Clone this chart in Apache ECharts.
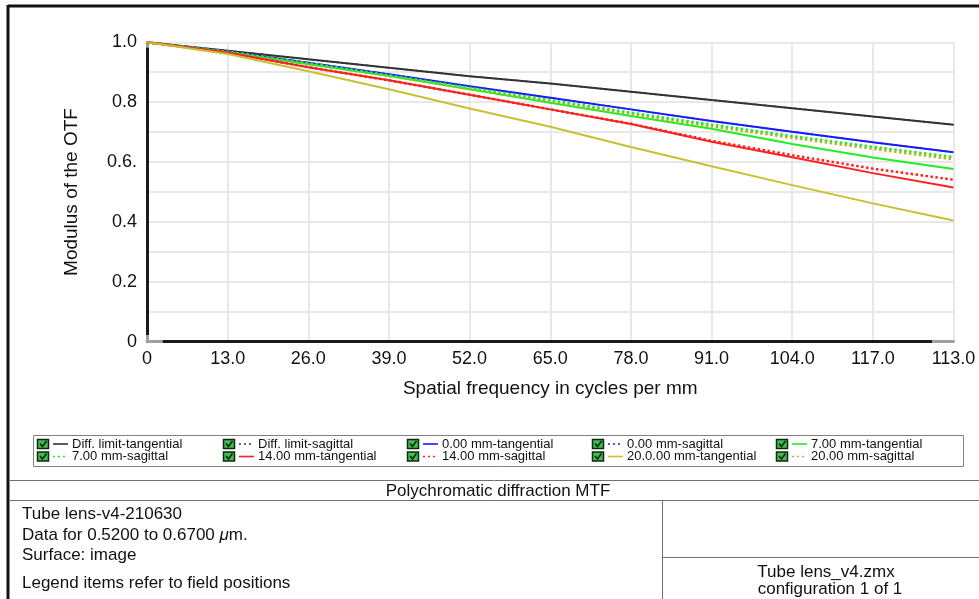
<!DOCTYPE html>
<html>
<head>
<meta charset="utf-8">
<script src="https://cdn.jsdelivr.net/npm/echarts@6/dist/echarts.min.js"></script>
<style>
html,body{margin:0;padding:0;background:#fff;}
#chart{width:979px;height:599px;}
</style>
</head>
<body>
<div id="chart"></div>
<script>
// ---- data ----
var frequencies = [0, 13, 26, 39, 52, 65, 78, 91, 104, 117, 130];
var xTickLabels = ["0", "13.0", "26.0", "39.0", "52.0", "65.0", "78.0", "91.0", "104.0", "117.0", "113.0"];
var yTickLabels = ["0", "", "0.2", "", "0.4", "", "0.6.", "", "0.8", "", "1.0"];

var diffTangential = [1, 0.972, 0.943, 0.915, 0.887, 0.862, 0.835, 0.807, 0.780, 0.752, 0.725];
var diffSagittal   = [1, 0.972, 0.943, 0.915, 0.887, 0.862, 0.835, 0.807, 0.780, 0.752, 0.725];
var f0Tangential   = [1, 0.969, 0.932, 0.893, 0.853, 0.815, 0.776, 0.737, 0.701, 0.666, 0.633];
var f0Sagittal     = [1, 0.969, 0.932, 0.893, 0.853, 0.815, 0.776, 0.737, 0.701, 0.666, 0.633];
var f7Tangential   = [1, 0.967, 0.927, 0.887, 0.843, 0.798, 0.754, 0.711, 0.660, 0.615, 0.577];
var f7Sagittal     = [1, 0.968, 0.930, 0.890, 0.848, 0.807, 0.765, 0.725, 0.687, 0.651, 0.617];
var f14Tangential  = [1, 0.965, 0.917, 0.873, 0.825, 0.776, 0.727, 0.668, 0.616, 0.563, 0.515];
var f14Sagittal    = [1, 0.965, 0.917, 0.873, 0.825, 0.776, 0.728, 0.671, 0.623, 0.578, 0.541];
var f20Tangential  = [1, 0.961, 0.903, 0.843, 0.779, 0.718, 0.650, 0.586, 0.523, 0.462, 0.405];
var f20Sagittal    = [1, 0.968, 0.929, 0.888, 0.845, 0.803, 0.760, 0.719, 0.681, 0.644, 0.609];

var legendNames = ["Diff. limit-tangential", "Diff. limit-sagittal", "0.00 mm-tangential", "0.00 mm-sagittal", "7.00 mm-tangential",
                   "7.00 mm-sagittal", "14.00 mm-tangential", "14.00 mm-sagittal", "20.0.00 mm-tangential", "20.00 mm-sagittal"];

// ---- styling ----
var FONT = '"Liberation Sans", Arial, sans-serif';
var C_BLACK = '#333333', C_BLUE = '#1a1aff', C_GREEN = '#22ee22', C_RED = '#ff2020', C_YEL = '#c8c030', C_YELD = '#d0a830';

var seriesDefs = [
  {name: legendNames[1], data: diffSagittal, color: C_BLACK, dotted: true, hidden: true},
  {name: legendNames[0], data: diffTangential, color: C_BLACK, dotted: false},
  {name: legendNames[3], data: f0Sagittal, color: C_BLUE, dotted: true, hidden: true},
  {name: legendNames[2], data: f0Tangential, color: C_BLUE, dotted: false},
  {name: legendNames[4], data: f7Tangential, color: C_GREEN, dotted: false},
  {name: legendNames[9], data: f20Sagittal, color: C_YELD, dotted: true},
  {name: legendNames[5], data: f7Sagittal, color: C_GREEN, dotted: true},
  {name: legendNames[6], data: f14Tangential, color: C_RED, dotted: false},
  {name: legendNames[7], data: f14Sagittal, color: C_RED, dotted: true},
  {name: legendNames[8], data: f20Tangential, color: C_YEL, dotted: false}
];

function zip(xs, ys) { return xs.map(function (x, i) { return [x, ys[i]]; }); }

var series = seriesDefs.map(function (d) {
  return {
    name: d.name, type: 'line', data: zip(frequencies, d.data),
    showSymbol: false, symbol: 'none', smooth: false, animation: false,
    lineStyle: {color: d.color, width: d.hidden ? 1.5 : (d.dotted ? 2.5 : 2), type: d.dotted ? [2.5, 2.5] : 'solid'}
  };
});

// ---- legend & frame graphics ----
var legendColors = [C_BLACK, C_BLACK, C_BLUE, C_BLUE, C_GREEN, C_GREEN, C_RED, C_RED, C_YEL, C_YELD];
var legendDotted = [false, true, false, true, false, true, false, true, false, true];
var colX = [37, 223, 407, 592, 776];
var rowY = [444, 456.5];
var graphics = [];

// outer frame
graphics.push({type: 'line', shape: {x1: 8, y1: 6, x2: 979, y2: 6}, style: {stroke: '#111', lineWidth: 3}});
graphics.push({type: 'line', shape: {x1: 8, y1: 5, x2: 8, y2: 599}, style: {stroke: '#111', lineWidth: 3}});
// legend box
graphics.push({type: 'rect', shape: {x: 33.5, y: 435.5, width: 930, height: 31}, style: {fill: '#fff', stroke: '#808080', lineWidth: 1}});
for (var i = 0; i < legendNames.length; i++) {
  var cx = colX[i % 5], cy = rowY[Math.floor(i / 5)];
  graphics.push({type: 'rect', shape: {x: cx + 0.5, y: cy - 4.5, width: 11, height: 9}, style: {fill: '#3fbf4f', stroke: '#0d2a0d', lineWidth: 1.5}});
  graphics.push({type: 'polyline', shape: {points: [[cx + 3, cy - 0.5], [cx + 5.5, cy + 2.5], [cx + 9.5, cy - 3]]}, style: {stroke: '#102010', lineWidth: 1.6, fill: null}});
  graphics.push({type: 'line', shape: {x1: cx + 16, y1: cy, x2: cx + 31, y2: cy},
    style: {stroke: legendColors[i], lineWidth: 1.6, lineDash: legendDotted[i] ? [2, 3] : null}});
  graphics.push({type: 'text', x: cx + 35, y: cy, style: {text: legendNames[i], font: '13px ' + FONT, fill: '#111', textVerticalAlign: 'middle', verticalAlign: 'middle'}});
}
// table
var TL = '#707070';
graphics.push({type: 'line', shape: {x1: 10, y1: 480.5, x2: 979, y2: 480.5}, style: {stroke: TL, lineWidth: 1}});
graphics.push({type: 'line', shape: {x1: 10, y1: 500.5, x2: 979, y2: 500.5}, style: {stroke: TL, lineWidth: 1}});
graphics.push({type: 'line', shape: {x1: 662.5, y1: 500, x2: 662.5, y2: 599}, style: {stroke: TL, lineWidth: 1}});
graphics.push({type: 'line', shape: {x1: 662, y1: 557.5, x2: 979, y2: 557.5}, style: {stroke: TL, lineWidth: 1}});
function txt(x, y, s, align) {
  return {type: 'text', x: x, y: y, style: {text: s, font: '17px ' + FONT, fill: '#111', textAlign: align || 'left', align: align || 'left', textVerticalAlign: 'middle', verticalAlign: 'middle'}};
}
graphics.push(txt(498, 491, 'Polychromatic diffraction MTF', 'center'));
graphics.push(txt(22, 514, 'Tube lens-v4-210630'));
graphics.push({type: 'text', x: 22, y: 535, style: {text: 'Data for 0.5200 to 0.6700 {i|\u03bc}m.', rich: {i: {fontStyle: 'italic', font: 'italic 17px ' + FONT, fill: '#111'}}, font: '17px ' + FONT, fill: '#111', verticalAlign: 'middle', textVerticalAlign: 'middle'}});
graphics.push(txt(22, 555, 'Surface: image'));
graphics.push(txt(22, 583, 'Legend items refer to field positions'));
graphics.push(txt(826, 572, 'Tube lens_v4.zmx', 'center'));
graphics.push(txt(830, 589, 'configuration 1 of 1', 'center'));

var axisGradX = {type: 'linear', x: 0, y: 0, x2: 1, y2: 0, colorStops: [
  {offset: 0, color: '#a0a0a0'}, {offset: 0.022, color: '#a0a0a0'}, {offset: 0.023, color: '#1a1a1a'},
  {offset: 0.97, color: '#1a1a1a'}, {offset: 0.971, color: '#a0a0a0'}, {offset: 1, color: '#a0a0a0'}]};
var axisGradY = {type: 'linear', x: 0, y: 0, x2: 0, y2: 1, colorStops: [
  {offset: 0, color: '#a0a0a0'}, {offset: 0.025, color: '#a0a0a0'}, {offset: 0.026, color: '#1a1a1a'},
  {offset: 0.97, color: '#1a1a1a'}, {offset: 0.971, color: '#a0a0a0'}, {offset: 1, color: '#a0a0a0'}]};

var option = {
  animation: false,
  backgroundColor: '#ffffff',
  grid: {left: 147, right: 25.5, top: 42.3, bottom: 257.3, containLabel: false},
  xAxis: {
    type: 'value', min: 0, max: 130, interval: 13,
    name: 'Spatial frequency in cycles per mm', nameLocation: 'middle', nameGap: 38,
    nameTextStyle: {fontFamily: FONT, fontSize: 19, color: '#111'},
    axisLine: {show: true, onZero: false, lineStyle: {color: axisGradX, width: 3}},
    axisTick: {show: false},
    axisLabel: {fontFamily: FONT, fontSize: 18, color: '#111', margin: 8, showMaxLabel: true, showMinLabel: true,
      formatter: function (v) { return xTickLabels[Math.round(v / 13)]; }},
    splitLine: {show: true, lineStyle: {color: '#e8e8e8', width: 2}}
  },
  yAxis: {
    type: 'value', min: 0, max: 1, interval: 0.1,
    name: 'Modulus of the OTF', nameLocation: 'middle', nameGap: 66,
    nameTextStyle: {fontFamily: FONT, fontSize: 19, color: '#111'},
    axisLine: {show: true, onZero: false, lineStyle: {color: axisGradY, width: 3}},
    axisTick: {show: false},
    axisLabel: {fontFamily: FONT, fontSize: 18, color: '#111', margin: 10, showMaxLabel: true,
      formatter: function (v) { return yTickLabels[Math.round(v * 10)]; }},
    splitLine: {show: true, lineStyle: {color: '#e8e8e8', width: 2}}
  },
  series: series,
  graphic: graphics
};

var chart = echarts.init(document.getElementById('chart'), null, {renderer: 'canvas'});
chart.setOption(option);
</script>
</body>
</html>
